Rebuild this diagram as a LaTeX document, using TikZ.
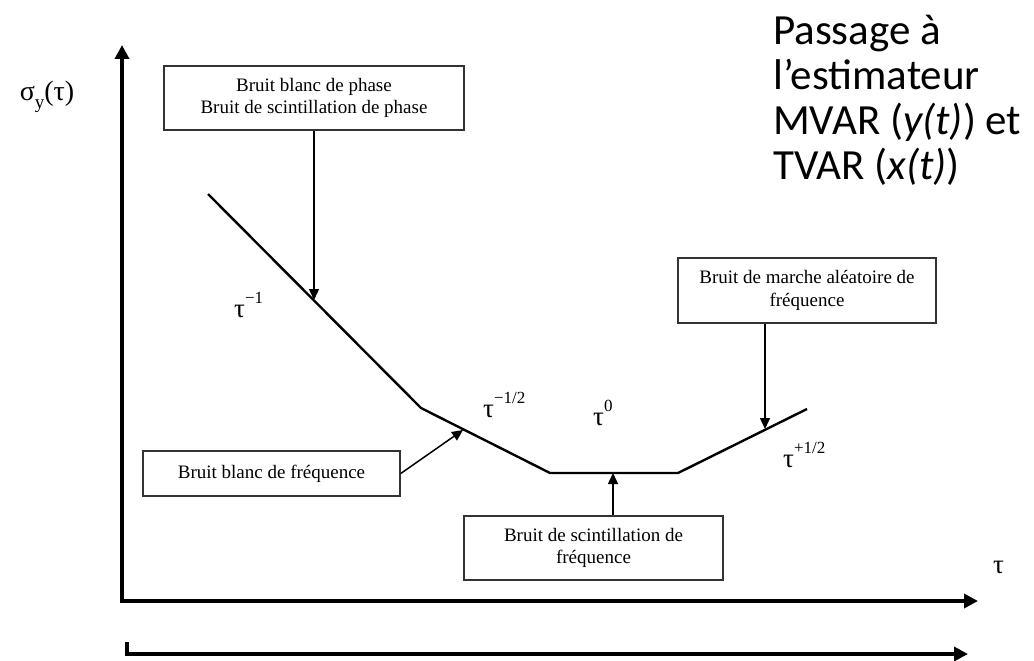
\documentclass[tikz,border=0pt]{standalone}
\usepackage{fontspec}
\setmainfont{Liberation Serif}
\newfontfamily\calib{Carlito}
\usetikzlibrary{arrows.meta}
\newcommand{\taupow}[1]{τ\raisebox{0.5em}{\fontsize{17}{17}\selectfont #1}}
\begin{document}
\begin{tikzpicture}[x=1pt,y=-1pt,
  box/.style={draw=black!80, line width=1.5pt, inner sep=0pt, align=center, font=\fontsize{19}{22.5}\selectfont},
  pointer/.style={line width=1.5pt, -{Triangle[length=11pt,width=10pt]}},
  axisline/.style={line width=3.5pt, line join=miter},
  curve/.style={line width=2.4pt},
  lbl/.style={inner sep=0pt, font=\fontsize{27}{30}\selectfont}]
\useasboundingbox (0,0) rectangle (1034,661);

% axes
\coordinate (o) at (122,601);
\coordinate (ytop) at (122,45);
\coordinate (xend) at (978,601);
\draw[axisline, {Triangle[length=14pt,width=14pt]}-{Triangle[length=14pt,width=14pt]}] (ytop) -- (o) -- (xend);
\coordinate (bl) at (127,642);
\coordinate (bc) at (127,654);
\coordinate (br) at (968,654);
\draw[axisline, -{Triangle[length=14pt,width=14pt]}] (bl) -- (bc) -- (br);

% curve
\coordinate (c0) at (208,194);
\coordinate (c1) at (421,408);
\coordinate (c2) at (550,473);
\coordinate (c3) at (678,473);
\coordinate (c4) at (807,409);
\draw[curve] (c0) -- (c1) -- (c2) -- (c3) -- (c4);

% pointer targets
\coordinate (t1) at (314,300);
\coordinate (t2) at (463,430);
\coordinate (t3) at (613,473);
\coordinate (t4) at (765,429);

% boxes
\node[box, minimum width=300pt, minimum height=64pt] (b1) at (314,98) {Bruit blanc de phase\\Bruit de scintillation de phase};
\node[box, minimum width=257pt, minimum height=45pt] (b2) at (271.5,473.5) {Bruit blanc de fréquence};
\node[box, minimum width=259pt, minimum height=64pt] (b3) at (593.5,548) {Bruit de scintillation de\\fréquence};
\node[box, minimum width=258pt, minimum height=65pt] (b4) at (807,290.5) {Bruit de marche aléatoire de\\fréquence};

\draw[pointer] (b1.south) -- (t1);
\draw[pointer] (b2.east) -- (t2);
\draw[pointer] (t3 |- b3.north) -- (t3);
\draw[pointer] (t4 |- b4.south) -- (t4);

% labels
\node[inner sep=0pt, font=\fontsize{28}{30}\selectfont] (sig) at (47,97) {σ\raisebox{-0.3em}{\fontsize{19}{19}\selectfont y}(τ)};
\node[lbl, anchor=base west] (p1) at (234,317) {\taupow{−1}};
\node[lbl, anchor=base west] (p2) at (483,417) {\taupow{−1/2}};
\node[lbl, anchor=base west] (p3) at (593,425) {\taupow{0}};
\node[lbl, anchor=base west] (p4) at (783,467) {\taupow{+1/2}};
\node[lbl, anchor=base west] (tx) at (993,573) {τ};

\node[inner sep=0pt, anchor=north west, align=left, font=\calib\fontsize{43}{45}\selectfont] (pass) at (773,15)
  {Passage à\\l’estimateur\\MVAR (\textit{y(t)}) et\\TVAR (\textit{x(t)})};
\end{tikzpicture}
\end{document}
